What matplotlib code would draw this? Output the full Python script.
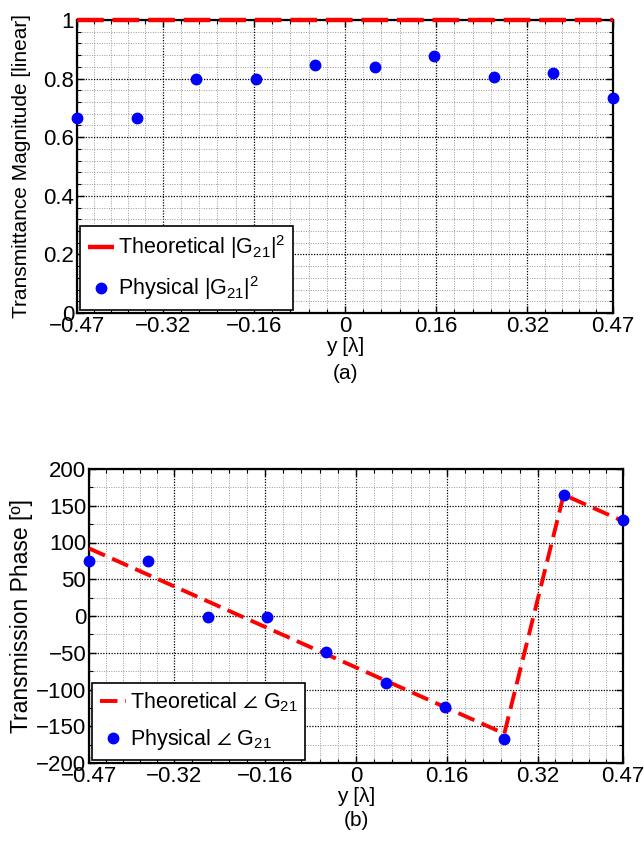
import numpy as np
import matplotlib
matplotlib.use("Agg")
import matplotlib.pyplot as plt

plt.rcParams['font.family'] = ['Liberation Sans', 'DejaVu Sans']
plt.rcParams['mathtext.fontset'] = 'custom'
plt.rcParams['mathtext.rm'] = 'Liberation Sans'
plt.rcParams['mathtext.it'] = 'Liberation Sans:italic'
plt.rcParams['mathtext.fallback'] = 'stixsans'

# element positions along y [lambda]
y_pos = [-0.47, -0.3656, -0.2611, -0.1567, -0.0522, 0.0522, 0.1567, 0.2611, 0.3656, 0.47]

# (a) transmittance magnitude
mag_theory = [1, 1, 1, 1, 1, 1, 1, 1, 1, 1]
mag_phys = [0.667, 0.667, 0.80, 0.80, 0.848, 0.839, 0.877, 0.807, 0.818, 0.735]

# (b) transmission phase in degrees
phase_theory = [92, 56, 20, -16, -52, -88, -124, -160, 165, 129]
phase_phys = [75, 75, -1, -1, -49, -91, -124, -168, 165, 130]

xticks = [-0.47, -0.32, -0.16, 0, 0.16, 0.32, 0.47]
xticklabels = ['\u22120.47', '\u22120.32', '\u22120.16', '0', '0.16', '0.32', '0.47']


def minor_between(ticks, n):
    # n subdivisions between each pair of major ticks
    out = []
    for a, b in zip(ticks[:-1], ticks[1:]):
        out.extend(np.linspace(a, b, n + 1)[1:-1])
    return out


def style_axes(ax):
    ax.set_xlim(-0.47, 0.47)
    ax.set_xticks(xticks)
    ax.set_xticklabels(xticklabels)
    ax.set_xticks(minor_between(xticks, 5), minor=True)
    ax.grid(True, which='major', color='black', linestyle=(0, (1, 1.2)), linewidth=0.9)
    ax.grid(True, which='minor', color='#999999', linestyle=(0, (1, 1.5)), linewidth=0.7)
    ax.set_axisbelow(True)
    ax.tick_params(which='both', direction='in', top=True, right=True, labelsize=16, pad=2)
    ax.tick_params(which='major', length=5, width=1)
    ax.tick_params(which='minor', length=3, width=0.8)
    for s in ax.spines.values():
        s.set_linewidth(1.6)
        s.set_color('black')


fig = plt.figure(figsize=(6.44, 8.42), dpi=100)

# ---- (a) magnitude
ax1 = fig.add_axes([77 / 644, 1 - 313 / 842, 536 / 644, 293 / 842])
ax1.plot(y_pos, mag_theory, color='red', linestyle=(0, (6, 2)), linewidth=3.2,
         label='Theoretical |G$_{21}$|$^2$', clip_on=False, zorder=3)
ax1.plot(y_pos, mag_phys, 'o', color='blue', markersize=7.5, linestyle='none',
         label='Physical |G$_{21}$|$^2$', clip_on=False, zorder=4)
style_axes(ax1)
ax1.set_ylim(0, 1)
yt1 = [0, 0.2, 0.4, 0.6, 0.8, 1]
ax1.set_yticks(yt1)
ax1.set_yticklabels(['0', '0.2', '0.4', '0.6', '0.8', '1'])
ax1.set_yticks(minor_between(yt1, 5), minor=True)
ax1.set_ylabel('Transmittance Magnitude [linear]', fontsize=15, labelpad=9)
ax1.set_xlabel('y [\u03bb]', fontsize=15, labelpad=0)
leg1 = ax1.legend(loc='lower left', fontsize=15.5, frameon=True, fancybox=False,
                  framealpha=1, edgecolor='black', handlelength=1.2,
                  handletextpad=0.2, borderaxespad=0.15, borderpad=0.35,
                  labelspacing=0.6)
leg1.get_frame().set_linewidth(1.2)
fig.text(345 / 644, 1 - 374 / 842, '(a)', ha='center', va='center', fontsize=15)

# ---- (b) phase
ax2 = fig.add_axes([89 / 644, 1 - 763 / 842, 534 / 644, 294 / 842])
ax2.plot(y_pos, phase_theory, color='red', linestyle=(0, (4.5, 2)), linewidth=2.8,
         label=r'Theoretical $\angle$ G$_{21}$', zorder=3)
ax2.plot(y_pos, phase_phys, 'o', color='blue', markersize=7.5, linestyle='none',
         label=r'Physical $\angle$ G$_{21}$', clip_on=False, zorder=4)
style_axes(ax2)
ax2.set_ylim(-200, 200)
yt2 = list(range(-200, 201, 50))
ax2.set_yticks(yt2)
ax2.set_yticklabels([('\u2212' + str(-v)) if v < 0 else str(v) for v in yt2])
ax2.set_yticks(minor_between(yt2, 2), minor=True)
ax2.set_ylabel('Transmission Phase [\u00ba]', fontsize=16.5, labelpad=2)
ax2.set_xlabel('y [\u03bb]', fontsize=15, labelpad=0)
leg2 = ax2.legend(loc='lower left', fontsize=15.5, frameon=True, fancybox=False,
                  framealpha=1, edgecolor='black', handlelength=1.2,
                  handletextpad=0.2, borderaxespad=0.15, borderpad=0.35,
                  labelspacing=0.6)
leg2.get_frame().set_linewidth(1.2)
fig.text(356 / 644, 1 - 820 / 842, '(b)', ha='center', va='center', fontsize=15)

fig.savefig('out.png', dpi=100)
